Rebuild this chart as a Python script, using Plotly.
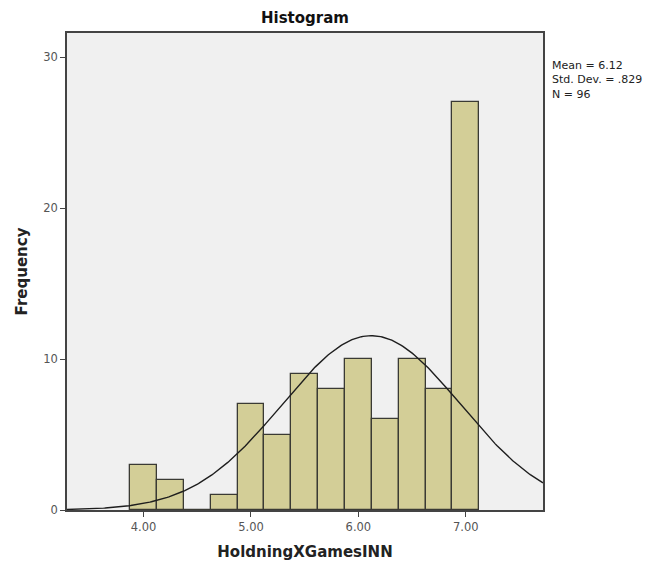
import numpy as np
import plotly.graph_objects as go

# Histogram of HoldningXGamesINN (bin width 0.25)
bin_centers = [4.00, 4.25, 4.50, 4.75, 5.00, 5.25, 5.50, 5.75, 6.00, 6.25, 6.50, 6.75, 7.00]
frequencies = [3, 2, 0, 1, 7, 5, 9, 8, 10, 6, 10, 8, 27]
bin_width = 0.25

mean = 6.12
std_dev = 0.829
n_obs = 96

x_ticks = [4.0, 5.0, 6.0, 7.0]
x_tick_labels = ["4.00", "5.00", "6.00", "7.00"]
y_ticks = [0, 10, 20, 30]

x_range = [3.287, 7.719]
y_range = [0, 31.6]

# Fitted normal curve scaled to counts
xs = np.linspace(x_range[0], x_range[1], 300)
ys = n_obs * bin_width * np.exp(-0.5 * ((xs - mean) / std_dev) ** 2) / (std_dev * np.sqrt(2 * np.pi))

fig = go.Figure()
fig.add_trace(go.Bar(
    x=bin_centers, y=frequencies, width=bin_width,
    marker=dict(color="#d3ce97", line=dict(color="#3a3a34", width=1.3)),
    hoverinfo="x+y",
))
fig.add_trace(go.Scatter(
    x=xs, y=ys, mode="lines",
    line=dict(color="#1e1e1e", width=1.4),
    hoverinfo="skip",
))

font_family = "DejaVu Sans"

fig.update_layout(
    width=666, height=562,
    margin=dict(l=67, r=123, t=33, b=52),
    paper_bgcolor="white",
    plot_bgcolor="#f0f0f0",
    showlegend=False,
    bargap=0,
    font=dict(family=font_family, color="#333333"),
    title=dict(text="<b>Histogram</b>", x=(67 + 543) / 2 / 666, xanchor="center", xref="container",
               y=1 - 18 / 562, yref="container", yanchor="middle",
               font=dict(size=15, color="#111111", family=font_family)),
)

fig.update_xaxes(
    range=x_range, tickvals=x_ticks, ticktext=x_tick_labels,
    ticks="outside", ticklen=5, tickcolor="#444444",
    tickfont=dict(size=11.5, color="#555555"),
    showgrid=False, zeroline=False, automargin=False,
    showline=True, linecolor="#444444", linewidth=1.5, mirror=True,
    title=dict(text="<b>HoldningXGamesINN</b>", font=dict(size=15, color="#222222"), standoff=14),
)
fig.update_yaxes(
    range=y_range, tickvals=y_ticks,
    ticks="outside", ticklen=5, tickcolor="#444444",
    tickfont=dict(size=11.5, color="#555555"),
    showgrid=False, zeroline=False, automargin=False,
    showline=True, linecolor="#444444", linewidth=1.5, mirror=True,
    title=dict(text="<b>Frequency</b>", font=dict(size=15, color="#222222"), standoff=12),
)

# Summary statistics beside the plot frame
fig.add_annotation(
    xref="paper", yref="paper", x=1.0, y=1.0,
    xshift=7, yshift=-24,
    text=f"Mean = {mean:.2f}<br>Std. Dev. = .{int(round(std_dev * 1000))}<br>N = {n_obs}",
    showarrow=False, xanchor="left", yanchor="top", align="left",
    font=dict(size=11, color="#222222", family=font_family),
)

fig.write_html("out.html")
